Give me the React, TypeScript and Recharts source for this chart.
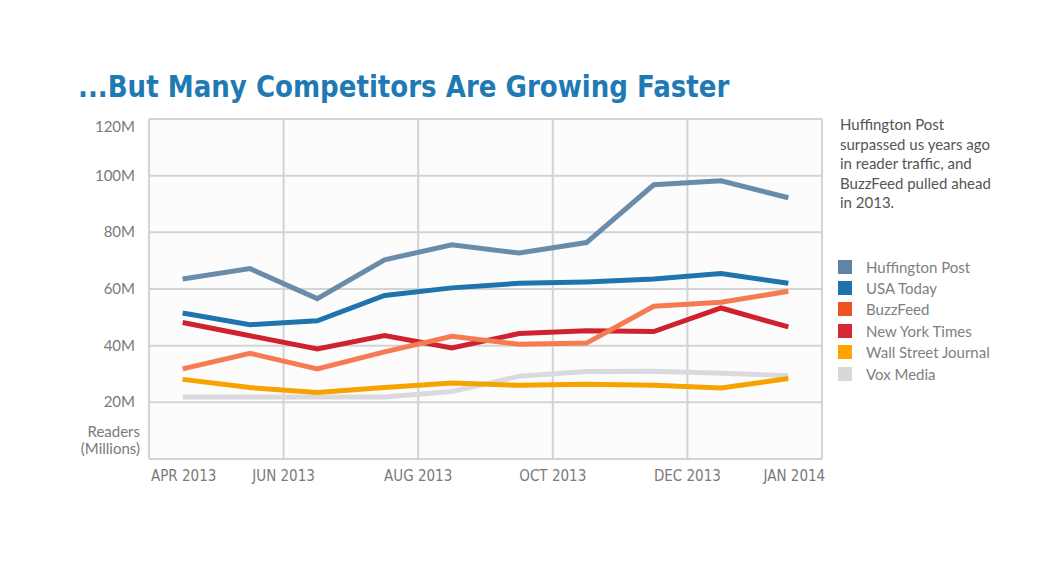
import React from 'react';
import { LineChart, Line, XAxis, YAxis, CartesianGrid, ReferenceLine, Legend } from 'recharts';

const months = ['Apr 2013', 'May 2013', 'Jun 2013', 'Jul 2013', 'Aug 2013', 'Sep 2013', 'Oct 2013', 'Nov 2013', 'Dec 2013', 'Jan 2014'];
const huffingtonPost = [63.5, 67.2, 56.6, 70.3, 75.6, 72.7, 76.4, 96.8, 98.2, 92.2];
const usaToday = [51.5, 47.4, 48.8, 57.7, 60.4, 62.0, 62.5, 63.5, 65.5, 62.0];
const buzzFeed = [31.8, 37.3, 31.8, 37.8, 43.3, 40.5, 40.9, 53.9, 55.3, 59.2];
const newYorkTimes = [48.2, 43.5, 38.8, 43.6, 39.2, 44.3, 45.3, 45.0, 53.3, 46.6];
const wallStreetJournal = [28.1, 25.2, 23.5, 25.2, 26.8, 26.0, 26.4, 26.0, 25.1, 28.4];
const voxMedia = [21.9, 21.9, 21.9, 21.9, 23.8, 29.2, 30.9, 31.0, 30.3, 29.4];

const seriesNames = ['Huffington Post', 'USA Today', 'BuzzFeed', 'New York Times', 'Wall Street Journal', 'Vox Media'];
const seriesKeys = ['huff', 'usa', 'buzz', 'nyt', 'wsj', 'vox'];
const lineColors = ['#6A8CAB', '#2074AE', '#F67B52', '#D0222E', '#F6A300', '#DADADE'];
const legendColors = ['#6383A6', '#1F72AD', '#EC5520', '#D42935', '#FFA300', '#D8D8DC'];
const drawOrder = [5, 4, 3, 2, 1, 0];

const xTickValues = [0, 1.5, 3.5, 5.5, 7.5, 9];
const xTickLabels = ['APR 2013', 'JUN 2013', 'AUG 2013', 'OCT 2013', 'DEC 2013', 'JAN 2014'];
const xGridValues = [-0.5, 1.5, 3.5, 5.5, 7.5, 9.5];
const yTickValues = [0, 20, 40, 60, 80, 100, 120];

const seriesValues = [huffingtonPost, usaToday, buzzFeed, newYorkTimes, wallStreetJournal, voxMedia];
const data = months.map((m, i) => {
  const row: any = { idx: i, month: m };
  seriesKeys.forEach((k, s) => { row[k] = seriesValues[s][i]; });
  return row;
});

const condensed = '"Liberation Sans Narrow", "DejaVu Sans Condensed", "Roboto", sans-serif';
const bodyFont = 'Lato, "Open Sans", sans-serif';

const YTick = (props: any) => {
  const { x, y, payload } = props;
  if (payload.value === 0) {
    return (
      <text x={x + 5} y={y} textAnchor="end" fill="#7a7a7a" fontSize={15} fontFamily={bodyFont}>
        <tspan x={x + 5} dy={-22}>Readers</tspan>
        <tspan x={x + 5} dy={17}>(Millions)</tspan>
      </text>
    );
  }
  const dy = payload.value === 120 ? 13 : 5;
  return (
    <text x={x} y={y} dy={dy} textAnchor="end" fill="#7a7a7a" fontSize={15} fontFamily={bodyFont}>
      {payload.value + 'M'}
    </text>
  );
};

const XTick = (props: any) => {
  const { x, y, payload } = props;
  const i = xTickValues.indexOf(payload.value);
  const shift = i === 0 ? 1 : i === xTickValues.length - 1 ? 6 : 0;
  return (
    <text x={x + shift} y={y} dy={14} textAnchor="middle" fill="#7a7a7a" fontSize={15} fontFamily={condensed}>
      {xTickLabels[i]}
    </text>
  );
};

const LegendContent = (props: any) => {
  const payload = [...(props.payload || [])].sort(
    (a: any, b: any) => seriesNames.indexOf(a.value) - seriesNames.indexOf(b.value)
  );
  return (
    <div style={{ width: 200 }}>
      {payload.map((p: any) => {
        const i = seriesNames.indexOf(p.value);
        return (
          <div key={p.value} style={{ display: 'flex', alignItems: 'center', height: 21.4, whiteSpace: 'nowrap' }}>
            <div style={{ width: 14, height: 14, background: legendColors[i], marginRight: 14, flex: 'none' }} />
            <span style={{ fontFamily: bodyFont, fontSize: 15, color: '#808080' }}>{p.value}</span>
          </div>
        );
      })}
    </div>
  );
};

export default function App() {
  return (
    <div style={{ position: 'absolute', left: 0, top: 0, width: 1063, height: 577, background: '#fff', overflow: 'hidden' }}>
      <div
        style={{
          position: 'absolute', left: 78, top: 66, fontFamily: condensed, fontWeight: 700,
          fontSize: 31, color: '#1F7AB4', whiteSpace: 'nowrap', lineHeight: '40px',
          transform: 'scaleX(0.935)', transformOrigin: 'left center',
        }}
      >
        ...But Many Competitors Are Growing Faster
      </div>
      <div
        style={{
          position: 'absolute', left: 840, top: 115, width: 210, fontFamily: bodyFont,
          fontSize: 15, lineHeight: '19.5px', color: '#555', whiteSpace: 'nowrap',
        }}
      >
        Huffington Post<br />surpassed us years ago<br />in reader traffic, and<br />BuzzFeed pulled ahead<br />in 2013.
      </div>
      <LineChart width={1063} height={577} data={data} margin={{ top: 119, right: 241, left: 89, bottom: 88 }}>
        <CartesianGrid vertical={false} stroke="#D3D3D3" strokeWidth={2} fill="#FCFCFC" />
        {xGridValues.map((v) => (
          <ReferenceLine key={v} x={v} stroke="#D3D3D3" strokeWidth={2} />
        ))}
        <XAxis
          dataKey="idx" type="number" domain={[-0.5, 9.5]} ticks={xTickValues}
          axisLine={false} tickLine={false} tick={<XTick />} height={30} interval={0}
        />
        <YAxis
          type="number" domain={[0, 120]} ticks={yTickValues} axisLine={false} tickLine={false}
          tickSize={0} tickMargin={14} tick={<YTick />} width={60} interval={0}
        />
        {drawOrder.map((s) => (
          <Line
            key={seriesKeys[s]} type="linear" dataKey={seriesKeys[s]} name={seriesNames[s]}
            stroke={lineColors[s]} strokeWidth={5} dot={false} activeDot={false} isAnimationActive={false}
          />
        ))}
        <Legend
          layout="vertical" align="right" verticalAlign="middle" content={<LegendContent />}
          wrapperStyle={{ position: 'absolute', left: 838, top: 256, width: 0, height: 0, overflow: 'visible' }}
        />
      </LineChart>
    </div>
  );
}
